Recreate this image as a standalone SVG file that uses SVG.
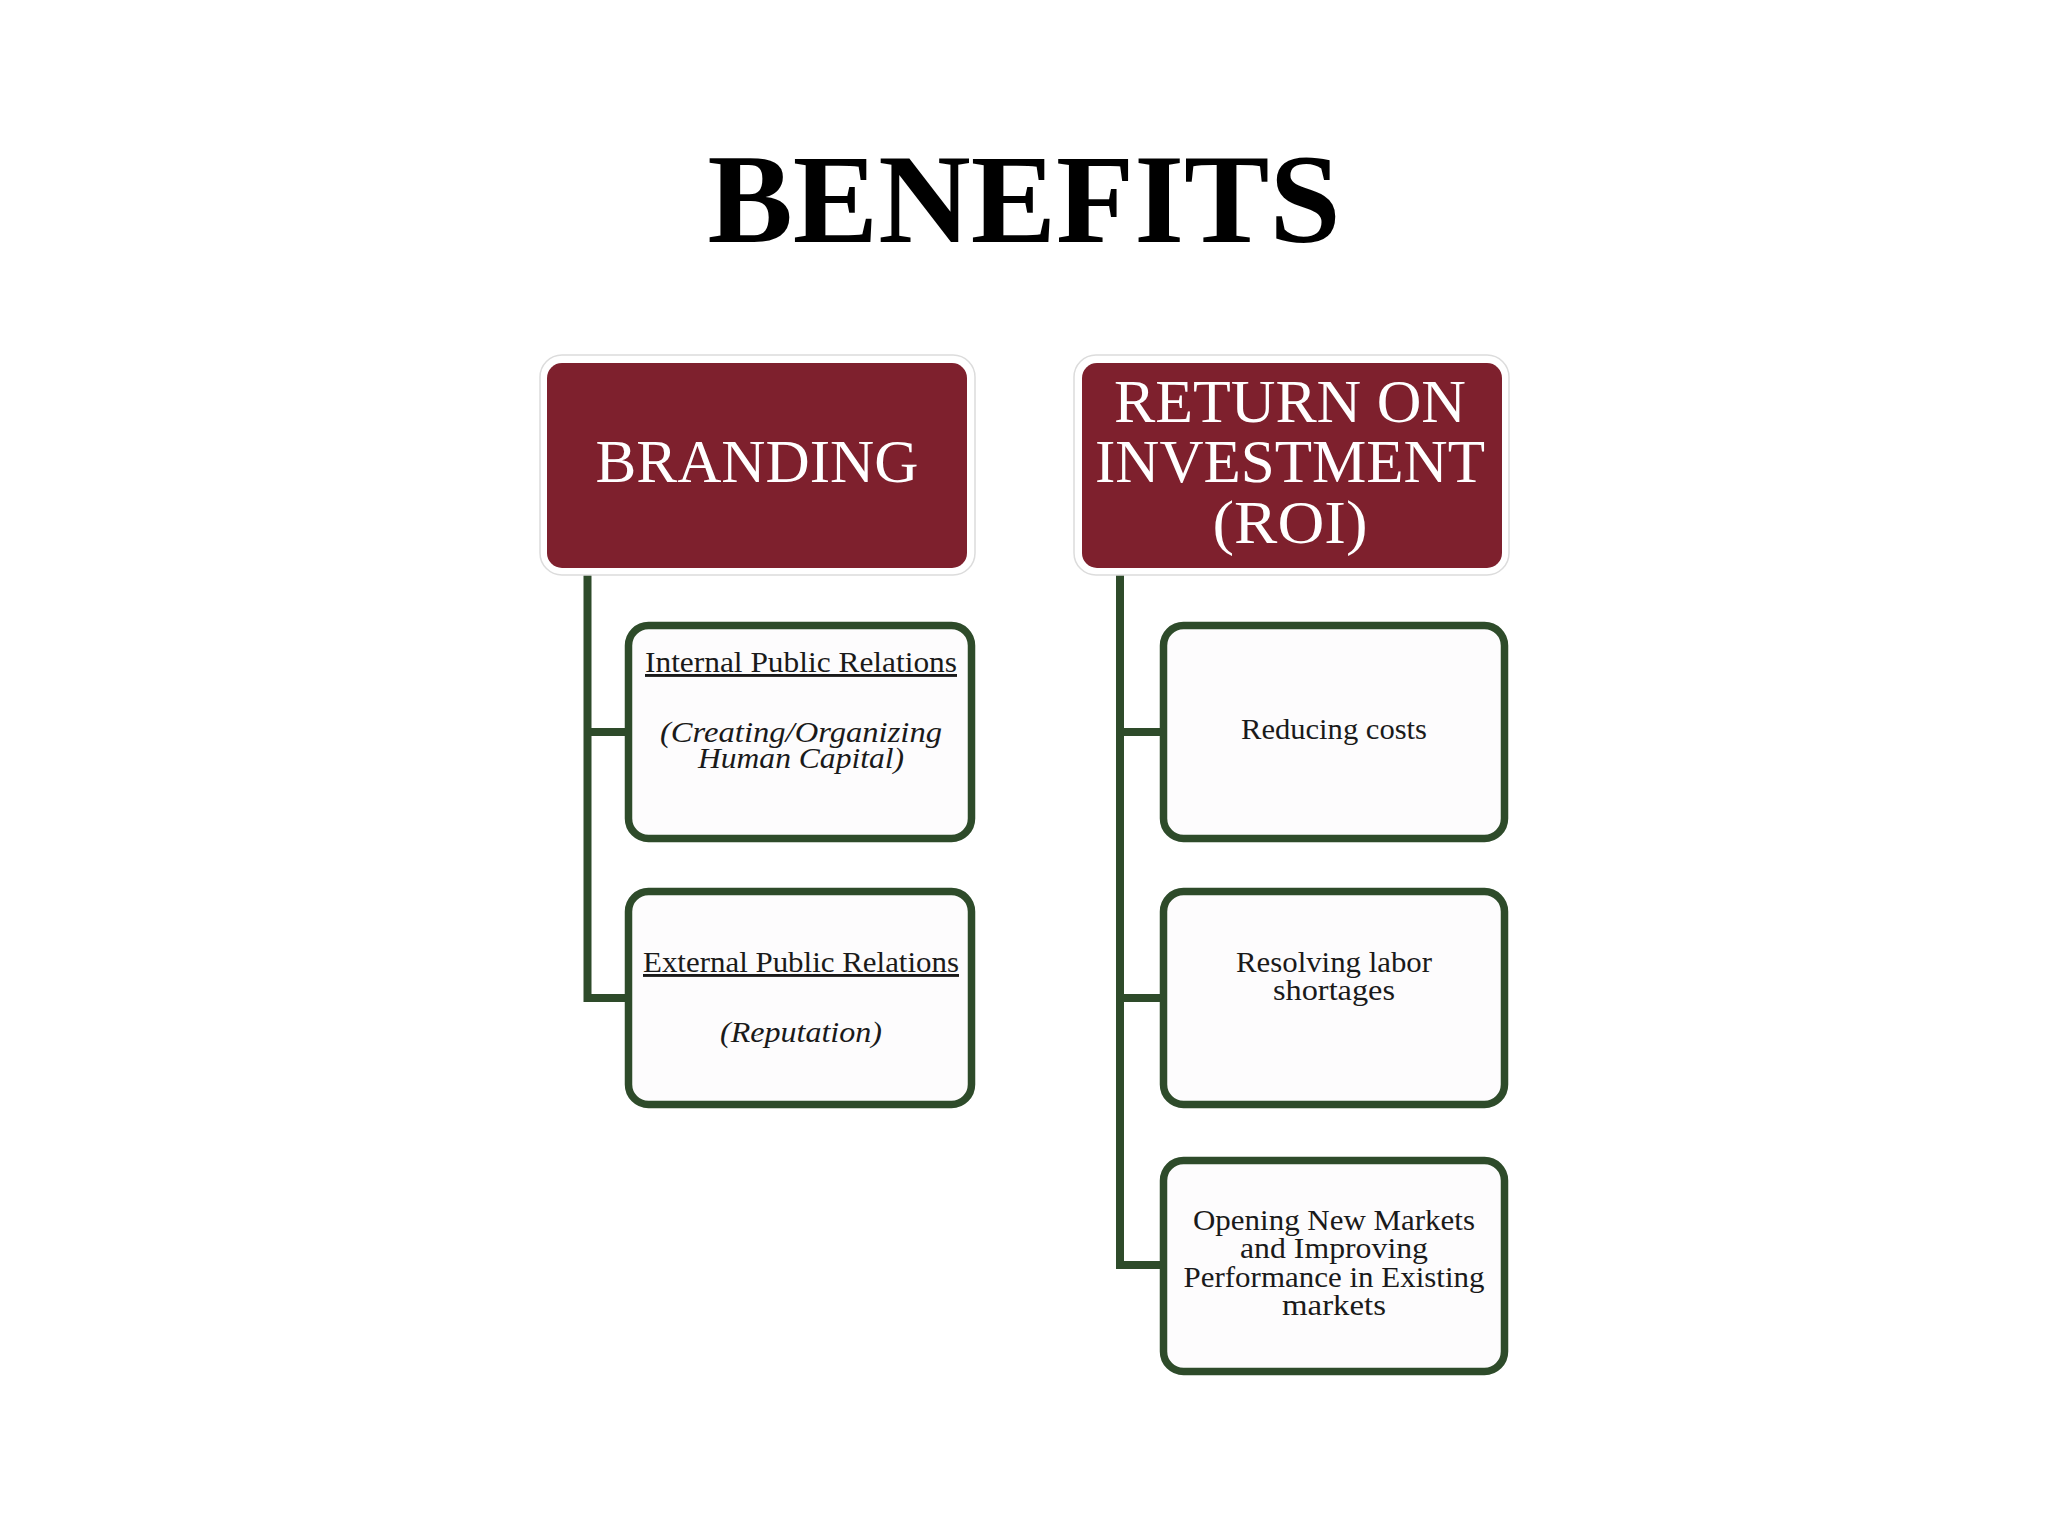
<svg xmlns="http://www.w3.org/2000/svg" width="2048" height="1536" viewBox="0 0 2048 1536">
<style>
.hdrOuter{fill:#ffffff;stroke:#dcdcdc;stroke-width:1.5}
.hdr{fill:#7e202d}
.hdrT{font-family:"Liberation Serif",serif;font-size:61px;fill:#ffffff;text-anchor:middle}
.box{fill:#fdfcfd;stroke:#2e4b2a;stroke-width:7.5}
.t{font-family:"Liberation Serif",serif;font-size:29px;fill:#1a1a1a;text-anchor:middle}
.it{font-style:italic}
.conn{fill:none;stroke:#2e4b2a;stroke-width:8}
</style>
<rect width="2048" height="1536" fill="#ffffff"/>
<text x="1024" y="242" font-family="Liberation Serif,serif" font-weight="bold" font-size="128" text-anchor="middle" fill="#000000">BENEFITS</text>
<g id="connectors">
<path class="conn" d="M587.5,568 V998 H628 M587.5,732 H628"/>
<path class="conn" d="M1120,568 V1265 H1161 M1120,732 H1161 M1120,998 H1161"/>
</g>
<g id="branding">
<rect class="hdrOuter" x="540" y="355" width="435" height="220" rx="22"/>
<rect class="hdr" x="547" y="363" width="420" height="205" rx="15"/>
<text class="hdrT" x="757" y="482" textLength="323" lengthAdjust="spacingAndGlyphs">BRANDING</text>
</g>
<g id="roi">
<rect class="hdrOuter" x="1074" y="355" width="435" height="220" rx="22"/>
<rect class="hdr" x="1082" y="363" width="420" height="205" rx="15"/>
<text class="hdrT" x="1290" y="422" textLength="352" lengthAdjust="spacingAndGlyphs">RETURN ON</text>
<text class="hdrT" x="1290" y="482" textLength="390" lengthAdjust="spacingAndGlyphs">INVESTMENT</text>
<text class="hdrT" x="1290" y="543" textLength="155" lengthAdjust="spacingAndGlyphs">(ROI)</text>
</g>
<g id="internal-pr">
<rect class="box" x="628.5" y="625.5" width="343" height="213" rx="20"/>
<text class="t" x="801" y="672" text-decoration="underline" textLength="312" lengthAdjust="spacingAndGlyphs">Internal Public Relations</text>
<text class="t it" x="801" y="742" textLength="282" lengthAdjust="spacingAndGlyphs">(Creating/Organizing</text>
<text class="t it" x="801" y="768" textLength="206" lengthAdjust="spacingAndGlyphs">Human Capital)</text>
</g>
<g id="external-pr">
<rect class="box" x="628.5" y="891.5" width="343" height="213" rx="20"/>
<text class="t" x="801" y="972" text-decoration="underline" textLength="316" lengthAdjust="spacingAndGlyphs">External Public Relations</text>
<text class="t it" x="801" y="1042" textLength="162" lengthAdjust="spacingAndGlyphs">(Reputation)</text>
</g>
<g id="reducing-costs">
<rect class="box" x="1163.5" y="625.5" width="341" height="213" rx="20"/>
<text class="t" x="1334" y="739" textLength="186" lengthAdjust="spacingAndGlyphs">Reducing costs</text>
</g>
<g id="labor-shortages">
<rect class="box" x="1163.5" y="891.5" width="341" height="213" rx="20"/>
<text class="t" x="1334" y="972" textLength="196" lengthAdjust="spacingAndGlyphs">Resolving labor</text>
<text class="t" x="1334" y="1000" textLength="122" lengthAdjust="spacingAndGlyphs">shortages</text>
</g>
<g id="new-markets">
<rect class="box" x="1163.5" y="1160.5" width="341" height="211" rx="20"/>
<text class="t" x="1334" y="1230" textLength="282" lengthAdjust="spacingAndGlyphs">Opening New Markets</text>
<text class="t" x="1334" y="1258" textLength="188" lengthAdjust="spacingAndGlyphs">and Improving</text>
<text class="t" x="1334" y="1287" textLength="301" lengthAdjust="spacingAndGlyphs">Performance in Existing</text>
<text class="t" x="1334" y="1315" textLength="104" lengthAdjust="spacingAndGlyphs">markets</text>
</g>
</svg>
